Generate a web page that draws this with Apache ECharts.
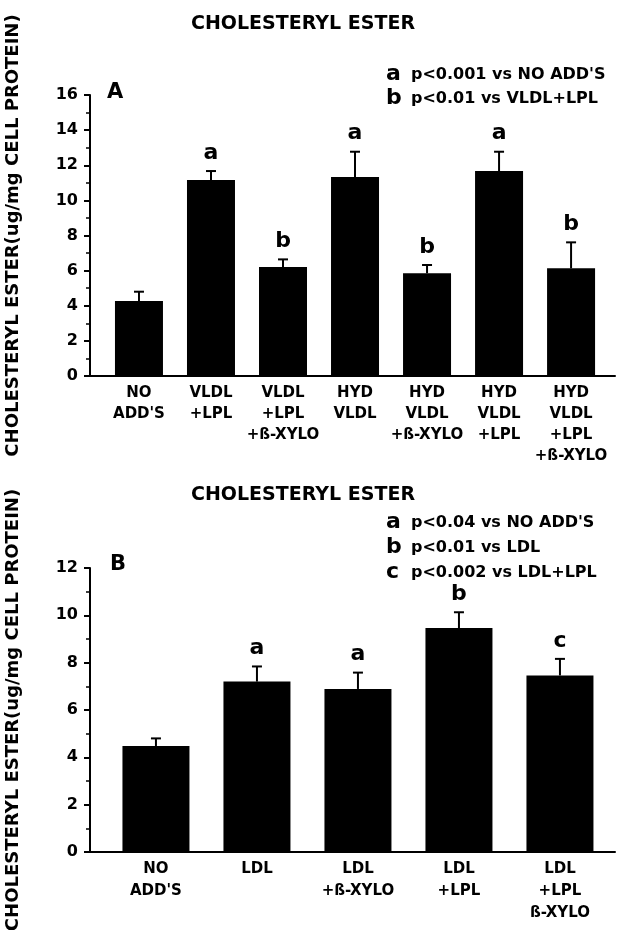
<!DOCTYPE html>
<html>
<head>
<meta charset="utf-8">
<script src="https://cdn.jsdelivr.net/npm/echarts@6/dist/echarts.min.js"></script>
<style>
  html, body { margin: 0; padding: 0; background: #fff; }
  #chart { width: 618px; height: 930px; }
</style>
</head>
<body>
<div id="chart"></div>
<script>
// panel A
var catsA = ["NO\nADD'S", "VLDL\n+LPL", "VLDL\n+LPL\n+ß-XYLO", "HYD\nVLDL", "HYD\nVLDL\n+ß-XYLO", "HYD\nVLDL\n+LPL", "HYD\nVLDL\n+LPL\n+ß-XYLO"];
var valsA = [4.27, 11.16, 6.2, 11.33, 5.85, 11.67, 6.13];
var errA = [0.53, 0.51, 0.44, 1.44, 0.47, 1.1, 1.48];
var marksA = ["", "a", "b", "a", "b", "a", "b"];
var notesA = [["a", "p<0.001 vs NO ADD'S"], ["b", "p<0.01 vs VLDL+LPL"]];

// panel B
var catsB = ["NO\nADD'S", "LDL", "LDL\n+ß-XYLO", "LDL\n+LPL", "LDL\n+LPL\nß-XYLO"];
var valsB = [4.48, 7.2, 6.89, 9.46, 7.46];
var errB = [0.32, 0.64, 0.69, 0.67, 0.7];
var marksB = ["", "a", "a", "b", "c"];
var notesB = [["a", "p<0.04 vs NO ADD'S"], ["b", "p<0.01 vs LDL"], ["c", "p<0.002 vs LDL+LPL"]];

var FONT = '"DejaVu Sans", sans-serif';
var yName = "CHOLESTERYL ESTER(ug/mg CELL PROTEIN)";

function indexes(arr) {
  return arr.map(function (d, i) { return i; });
}

function barData(vals) {
  return vals.map(function (v, i) { return [i, v]; });
}

function errData(vals, errs) {
  return vals.map(function (v, i) { return [i, v, errs[i]]; });
}

function errRenderer(marks) {
  return function (params, api) {
    var i = api.value(0), v = api.value(1), e = api.value(2);
    var p0 = api.coord([i, v]);
    var p1 = api.coord([i, v + e]);
    var kids = [
      { type: 'line', shape: { x1: p0[0], y1: p0[1], x2: p1[0], y2: p1[1] }, style: { stroke: '#000', lineWidth: 2 } },
      { type: 'line', shape: { x1: p1[0] - 5, y1: p1[1], x2: p1[0] + 5, y2: p1[1] }, style: { stroke: '#000', lineWidth: 2 } }
    ];
    var m = marks[params.dataIndex];
    if (m) {
      kids.push({
        type: 'text', x: p1[0], y: p1[1] - 7,
        style: { text: m, fill: '#000', font: 'bold 22px ' + FONT, align: 'center', verticalAlign: 'bottom' }
      });
    }
    return { type: 'group', children: kids };
  };
}

function yAx(idx, max) {
  return {
    type: 'value', gridIndex: idx, min: 0, max: max, interval: 2,
    name: yName, nameLocation: 'middle', nameRotate: 90, nameGap: 68,
    nameTextStyle: { fontFamily: FONT, fontWeight: 'bold', fontSize: 18, color: '#000' },
    axisLine: { show: true, onZero: false, lineStyle: { color: '#000', width: 2 } },
    axisTick: { show: true, length: 6, lineStyle: { color: '#000', width: 2 } },
    minorTick: { show: true, splitNumber: 2, length: 4, lineStyle: { color: '#000', width: 1.5 } },
    splitLine: { show: false },
    axisLabel: { margin: 12, color: '#000', fontFamily: FONT, fontWeight: 'bold', fontSize: 16 }
  };
}

// value x axis so the baseline can start right at the y axis
function xAx(idx, cats, lo, hi, lh, margin) {
  return {
    type: 'value', gridIndex: idx, min: lo, max: hi,
    axisLine: { show: true, onZero: false, lineStyle: { color: '#000', width: 2 } },
    axisTick: { show: false },
    splitLine: { show: false },
    axisLabel: {
      customValues: indexes(cats), margin: margin, color: '#000',
      fontFamily: FONT, fontWeight: 'bold', fontSize: 15, lineHeight: lh,
      formatter: function (v) { return cats[Math.round(v)] || ''; }
    }
  };
}

function noteTexts(notes, y0, step) {
  var g = [];
  notes.forEach(function (n, k) {
    var y = y0 + k * step;
    g.push({ type: 'text', x: 386, y: y, style: { text: n[0], fill: '#000', font: 'bold 22px ' + FONT, verticalAlign: 'middle' } });
    g.push({ type: 'text', x: 411, y: y + 1, style: { text: n[1], fill: '#000', font: 'bold 16px ' + FONT, verticalAlign: 'middle' } });
  });
  return g;
}

var chart = echarts.init(document.getElementById('chart'), null, { renderer: 'canvas' });

var option = {
  backgroundColor: '#fff',
  animation: false,
  title: [
    { text: 'CHOLESTERYL ESTER', left: 298, top: 10, textAlign: 'center',
      textStyle: { fontFamily: FONT, fontWeight: 'bold', fontSize: 19, color: '#000' } },
    { text: 'CHOLESTERYL ESTER', left: 298, top: 481, textAlign: 'center',
      textStyle: { fontFamily: FONT, fontWeight: 'bold', fontSize: 19, color: '#000' } }
  ],
  grid: [
    { left: 90, right: 3, top: 95, height: 281, outerBoundsMode: 'none' },
    { left: 90, right: 3, top: 568, height: 284, outerBoundsMode: 'none' }
  ],
  xAxis: [xAx(0, catsA, -0.68, 6.61, 21, 7), xAx(1, catsB, -0.653, 4.545, 22, 6)],
  yAxis: [yAx(0, 16), yAx(1, 12)],
  graphic: [
    { type: 'text', x: 107, y: 93, style: { text: 'A', fill: '#000', font: 'bold 21px ' + FONT, verticalAlign: 'middle' } },
    { type: 'text', x: 110, y: 565, style: { text: 'B', fill: '#000', font: 'bold 21px ' + FONT, verticalAlign: 'middle' } }
  ].concat(noteTexts(notesA, 74, 24)).concat(noteTexts(notesB, 522, 25)),
  series: [
    { type: 'bar', xAxisIndex: 0, yAxisIndex: 0, data: barData(valsA), barWidth: 48,
      itemStyle: { color: '#000' } },
    { type: 'custom', xAxisIndex: 0, yAxisIndex: 0, data: errData(valsA, errA),
      renderItem: errRenderer(marksA), z: 5 },
    { type: 'bar', xAxisIndex: 1, yAxisIndex: 1, data: barData(valsB), barWidth: 67,
      itemStyle: { color: '#000' } },
    { type: 'custom', xAxisIndex: 1, yAxisIndex: 1, data: errData(valsB, errB),
      renderItem: errRenderer(marksB), z: 5 }
  ]
};

chart.setOption(option);
</script>
</body>
</html>
